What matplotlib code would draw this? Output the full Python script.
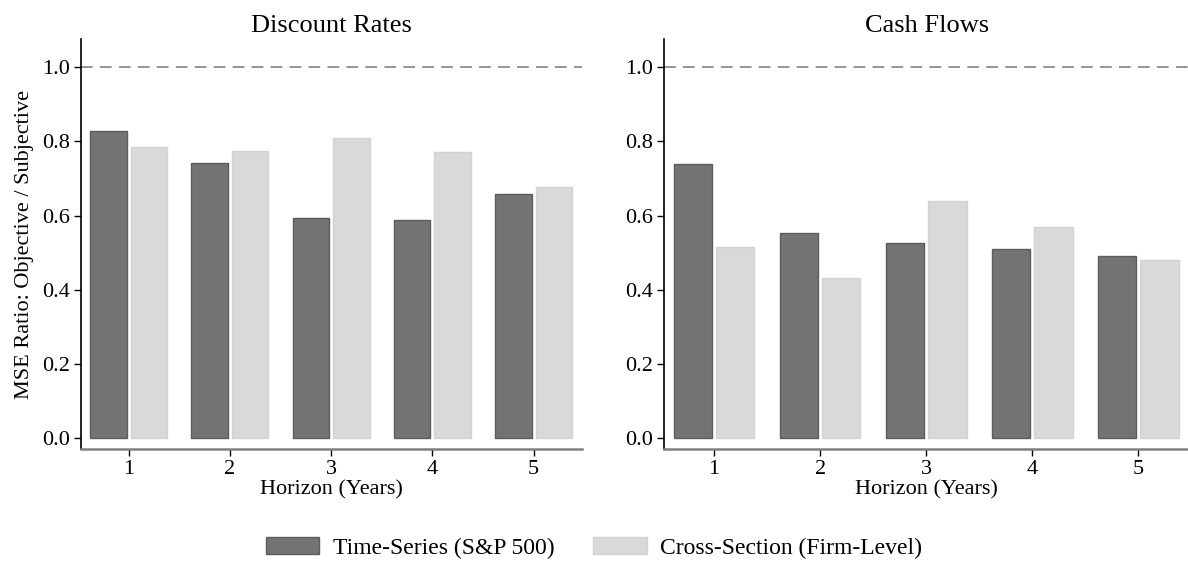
import matplotlib
matplotlib.use("Agg")
import matplotlib.pyplot as plt
import numpy as np

plt.rcParams['font.family'] = ['Liberation Serif', 'DejaVu Serif']

horizons = [1, 2, 3, 4, 5]
panel_titles = ["Discount Rates", "Cash Flows"]
series_labels = ["Time-Series (S&P 500)", "Cross-Section (Firm-Level)"]
dr_ts = [0.827, 0.742, 0.593, 0.588, 0.659]
dr_cs = [0.784, 0.775, 0.810, 0.771, 0.677]
cf_ts = [0.739, 0.553, 0.526, 0.511, 0.490]
cf_cs = [0.515, 0.433, 0.640, 0.568, 0.480]
y_ticks = [0.0, 0.2, 0.4, 0.6, 0.8, 1.0]

dark = '#737373'
dark_edge = '#5c5c5c'
light = '#d9d9d9'
light_edge = '#d2d2d2'

W, H = 1188, 571
fig = plt.figure(figsize=(W / 100, H / 100), dpi=100)

def px_axes(x0, x1, ytop, ybot):
    return [x0 / W, 1 - ybot / H, (x1 - x0) / W, (ybot - ytop) / H]

ax1 = fig.add_axes(px_axes(81, 582, 39.3, 449))
ax2 = fig.add_axes(px_axes(664.3, 1189, 39.3, 449))

x = np.array(horizons, dtype=float)
off = 0.2
bw = 0.36
handles = None
for ax, title, ts, cs in [(ax1, panel_titles[0], dr_ts, dr_cs),
                          (ax2, panel_titles[1], cf_ts, cf_cs)]:
    b1 = ax.bar(x - off, ts, width=bw, color=dark, edgecolor=dark_edge, linewidth=1.0,
                label=series_labels[0], zorder=2)
    b2 = ax.bar(x + off, cs, width=bw, color=light, edgecolor=light_edge, linewidth=1.0,
                label=series_labels[1], zorder=2)
    handles = [b1, b2]
    ax.axhline(1.0, color='#8c8c8c', linestyle=(0, (6.5, 4)), linewidth=1.3, zorder=1)
    ax.set_xlim(0.53, 5.478)
    ax.set_ylim(-0.029, 1.075)
    ax.set_xticks(horizons)
    ax.set_xticklabels([str(h) for h in horizons])
    ax.set_yticks(y_ticks)
    ax.set_yticklabels([f"{v:.1f}" for v in y_ticks])
    ax.set_title(title, fontsize=19, pad=5)
    ax.set_xlabel("Horizon (Years)", fontsize=16, labelpad=1)
    ax.tick_params(axis='both', labelsize=16, length=5, width=1, color='black', pad=3)
    for s in ['top', 'right']:
        ax.spines[s].set_visible(False)
    ax.spines['left'].set_color('black')
    ax.spines['left'].set_linewidth(1.2)
    ax.spines['bottom'].set_color('#808080')
    ax.spines['bottom'].set_linewidth(1.8)

ax1.set_ylabel("MSE Ratio: Objective / Subjective", fontsize=16, labelpad=6)

fig.legend(handles, series_labels, loc='center', bbox_to_anchor=(0.5, 1 - 548 / H),
           ncol=2, frameon=False, fontsize=17, handlelength=2.27, handleheight=0.7,
           handletextpad=0.57, columnspacing=1.66)

fig.savefig("out.png", dpi=100)
